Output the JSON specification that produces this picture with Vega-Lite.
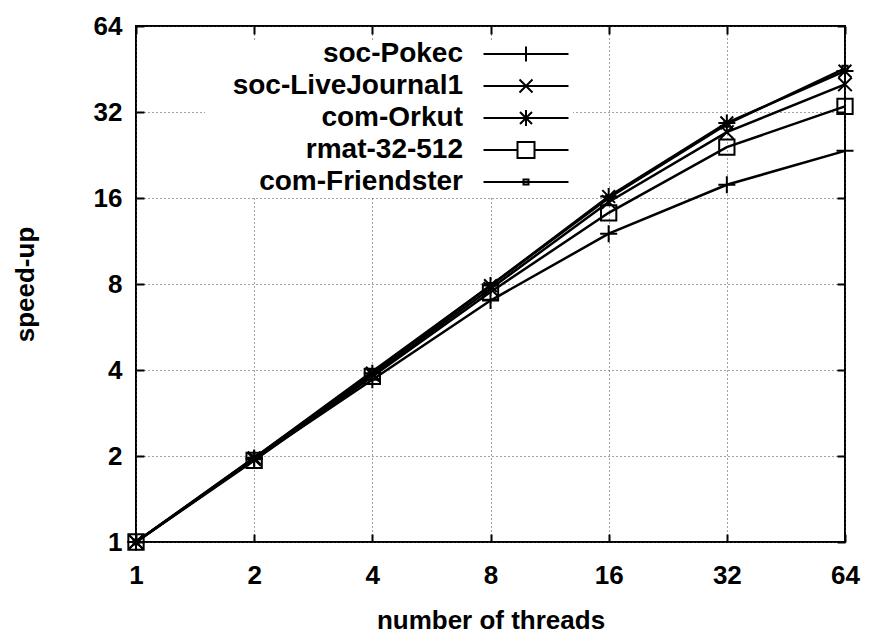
{
  "$schema": "https://vega.github.io/schema/vega-lite/v6.json",
  "width": 709,
  "height": 516,
  "autosize": "none",
  "padding": {"left": 136, "top": 26, "right": 27, "bottom": 97},
  "background": "white",
  "config": {
    "font": "Liberation Sans",
    "view": {"stroke": "black", "strokeWidth": 2},
    "axis": {
      "labelFont": "Liberation Sans",
      "labelFontSize": 26,
      "labelFontWeight": "bold",
      "labelColor": "black",
      "titleFont": "Liberation Sans",
      "titleFontSize": 26,
      "titleFontWeight": "bold",
      "titleColor": "black",
      "domain": false,
      "tickColor": "black",
      "tickWidth": 2,
      "tickSize": -8,
      "gridColor": "#444",
      "gridDash": [1, 3],
      "gridWidth": 1
    },
    "legend": {
      "labelFont": "Liberation Sans",
      "labelFontSize": 28,
      "labelFontWeight": "bold",
      "labelColor": "black",
      "labelLimit": 0
    }
  },
  "data": {
    "values": [
      {"threads": 1, "speedup": 1, "graph": "soc-Pokec"},
      {"threads": 2, "speedup": 1.95, "graph": "soc-Pokec"},
      {"threads": 4, "speedup": 3.7, "graph": "soc-Pokec"},
      {"threads": 8, "speedup": 7.0, "graph": "soc-Pokec"},
      {"threads": 16, "speedup": 12.0, "graph": "soc-Pokec"},
      {"threads": 32, "speedup": 17.8, "graph": "soc-Pokec"},
      {"threads": 64, "speedup": 23.4, "graph": "soc-Pokec"},
      {"threads": 1, "speedup": 1, "graph": "soc-LiveJournal1"},
      {"threads": 2, "speedup": 1.95, "graph": "soc-LiveJournal1"},
      {"threads": 4, "speedup": 3.85, "graph": "soc-LiveJournal1"},
      {"threads": 8, "speedup": 7.7, "graph": "soc-LiveJournal1"},
      {"threads": 16, "speedup": 15.5, "graph": "soc-LiveJournal1"},
      {"threads": 32, "speedup": 27.2, "graph": "soc-LiveJournal1"},
      {"threads": 64, "speedup": 40.0, "graph": "soc-LiveJournal1"},
      {"threads": 1, "speedup": 1, "graph": "com-Orkut"},
      {"threads": 2, "speedup": 1.97, "graph": "com-Orkut"},
      {"threads": 4, "speedup": 3.9, "graph": "com-Orkut"},
      {"threads": 8, "speedup": 7.9, "graph": "com-Orkut"},
      {"threads": 16, "speedup": 16.2, "graph": "com-Orkut"},
      {"threads": 32, "speedup": 29.3, "graph": "com-Orkut"},
      {"threads": 64, "speedup": 44.5, "graph": "com-Orkut"},
      {"threads": 1, "speedup": 1, "graph": "rmat-32-512"},
      {"threads": 2, "speedup": 1.93, "graph": "rmat-32-512"},
      {"threads": 4, "speedup": 3.8, "graph": "rmat-32-512"},
      {"threads": 8, "speedup": 7.5, "graph": "rmat-32-512"},
      {"threads": 16, "speedup": 14.2, "graph": "rmat-32-512"},
      {"threads": 32, "speedup": 24.1, "graph": "rmat-32-512"},
      {"threads": 64, "speedup": 33.5, "graph": "rmat-32-512"},
      {"threads": 1, "speedup": 1, "graph": "com-Friendster"},
      {"threads": 2, "speedup": 1.97, "graph": "com-Friendster"},
      {"threads": 4, "speedup": 3.95, "graph": "com-Friendster"},
      {"threads": 8, "speedup": 7.9, "graph": "com-Friendster"},
      {"threads": 16, "speedup": 16.0, "graph": "com-Friendster"},
      {"threads": 32, "speedup": 29.0, "graph": "com-Friendster"},
      {"threads": 64, "speedup": 45.5, "graph": "com-Friendster"}
    ]
  },
  "resolve": {
    "axis": {"x": "independent", "y": "independent"},
    "scale": {"shape": "independent"}
  },
  "layer": [
    {
      "mark": {"type": "line", "color": "black", "strokeWidth": 2.5},
      "encoding": {
        "x": {
          "field": "threads", "type": "quantitative",
          "scale": {"type": "log", "base": 2, "domain": [1, 64], "nice": false},
          "axis": {"values": [1, 2, 4, 8, 16, 32, 64], "title": "number of threads", "labelPadding": 28, "titlePadding": 19, "grid": true, "labelFlush": false}
        },
        "y": {
          "field": "speedup", "type": "quantitative",
          "scale": {"type": "log", "base": 2, "domain": [1, 64], "nice": false},
          "axis": {"values": [1, 2, 4, 8, 16, 32, 64], "title": "speed-up", "labelPadding": 22, "titlePadding": 55, "grid": true, "labelFlush": false}
        },
        "detail": {"field": "graph"}
      }
    },
    {
      "mark": {"type": "point", "filled": false, "stroke": "black", "strokeWidth": 2, "size": 289, "opacity": 1},
      "encoding": {
        "x": {
          "field": "threads", "type": "quantitative",
          "axis": {"orient": "top", "values": [1, 2, 4, 8, 16, 32, 64], "labels": false, "title": null, "grid": false}
        },
        "y": {
          "field": "speedup", "type": "quantitative",
          "axis": {"orient": "right", "values": [1, 2, 4, 8, 16, 32, 64], "labels": false, "title": null, "grid": false}
        },
        "shape": {
          "field": "graph", "type": "nominal",
          "scale": {
            "domain": ["soc-Pokec", "soc-LiveJournal1", "com-Orkut", "rmat-32-512", "com-Friendster"],
            "range": [
              "M-1,0L1,0M0,-1L0,1",
              "M-0.8,-0.8L0.8,0.8M-0.8,0.8L0.8,-0.8",
              "M-1,0L1,0M0,-1L0,1M-0.75,-0.75L0.75,0.75M-0.75,0.75L0.75,-0.75",
              "M-0.9,-0.9L0.9,-0.9L0.9,0.9L-0.9,0.9Z",
              "M-0.3,-0.3L0.3,-0.3L0.3,0.3L-0.3,0.3Z"
            ]
          },
          "legend": null
        }
      }
    },
    {
      "description": "Key entries: a line sample with the series marker, drawn to the right of each label",
      "mark": {"type": "point", "filled": false, "stroke": "black", "strokeWidth": 2, "size": 400, "opacity": 0},
      "encoding": {
        "x": {"field": "threads", "type": "quantitative", "axis": null},
        "y": {"field": "speedup", "type": "quantitative", "axis": null},
        "shape": {
          "field": "graph", "type": "nominal",
          "scale": {
            "domain": ["soc-Pokec", "soc-LiveJournal1", "com-Orkut", "rmat-32-512", "com-Friendster"],
            "range": [
              "M26.45,0L34.95,0M30.7,-0.75L30.7,0.75",
              "M26.45,0L34.95,0M30.05,-0.65L31.35,0.65M30.05,0.65L31.35,-0.65",
              "M26.45,0L34.95,0M30.7,-0.8L30.7,0.8M30.1,-0.6L31.3,0.6M30.1,0.6L31.3,-0.6",
              "M26.45,0L29.85,0M31.55,0L34.95,0M29.85,-0.8L31.55,-0.8L31.55,0.8L29.85,0.8Z",
              "M26.45,0L34.95,0M30.45,-0.25L30.95,-0.25L30.95,0.25L30.45,0.25Z"
            ]
          },
          "legend": {
            "title": null,
            "orient": "none",
            "legendX": 69,
            "legendY": 14,
            "symbolSize": 400,
            "symbolStrokeColor": "black",
            "symbolStrokeWidth": 2,
            "symbolFillColor": "transparent",
            "symbolOpacity": 1,
            "labelAlign": "right",
            "labelOffset": 230,
            "rowPadding": 4,
            "fillColor": "white",
            "padding": 0
          }
        }
      }
    }
  ]
}
